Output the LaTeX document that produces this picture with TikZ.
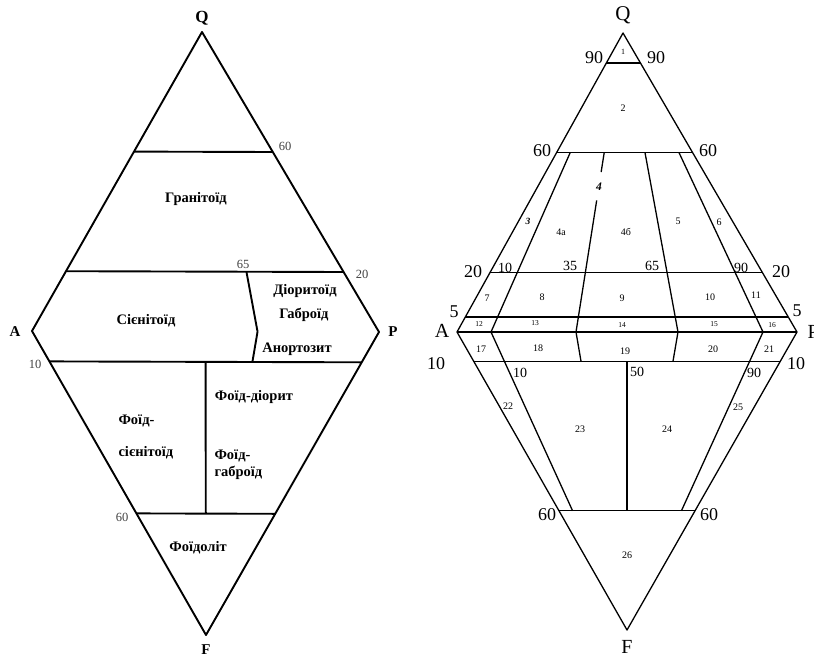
\documentclass[tikz,border=0pt]{standalone}
\usepackage{fontspec}
\setmainfont{Liberation Serif}
\usetikzlibrary{calc}

\begin{document}
\begin{tikzpicture}[x=1pt, y=-1pt, line join=round,
    rock/.style={font=\bfseries\fontsize{14.5}{16}\selectfont},
    vtx/.style={font=\bfseries\fontsize{15}{17}\selectfont},
    pct/.style={font=\fontsize{12.5}{14}\selectfont, text=black!75},
    big/.style={font=\fontsize{18}{20}\selectfont},
    mid/.style={font=\fontsize{14}{16}\selectfont},
    fld/.style={font=\fontsize{10}{11}\selectfont},
    tiny/.style={font=\fontsize{7.5}{9}\selectfont}]
  \useasboundingbox (0,0) rectangle (814,659);

  % ---- ліва діаграма ----
  \coordinate (Q1) at (202, 32);
  \coordinate (A1) at (32, 331);
  \coordinate (P1) at (379, 332);
  \coordinate (F1) at (206, 635);
  \coordinate (m65) at ($(A1)!0.65!(P1)$);
  \coordinate (m50) at ($(A1)!0.5!(P1)$);

  \begin{scope}[line width=1.9pt]
    \draw (Q1) -- (P1) -- (F1) -- (A1) -- cycle;
    \draw ($(Q1)!0.4!(A1)$) -- ($(Q1)!0.4!(P1)$);
    \draw ($(Q1)!0.8!(A1)$) -- ($(Q1)!0.8!(P1)$);
    \draw ($(A1)!0.1!(F1)$) -- ($(P1)!0.1!(F1)$);
    \draw ($(A1)!0.6!(F1)$) -- ($(P1)!0.6!(F1)$);
    \draw ($(Q1)!0.8!(m65)$) -- (m65) -- ($(m65)!0.1!(F1)$);
    \draw ($(m50)!0.1!(F1)$) -- ($(m50)!0.6!(F1)$);
  \end{scope}

  \node[vtx, font=\bfseries\fontsize{17}{19}\selectfont] at (202, 18) {Q};
  \node[vtx] at (15, 332) {A};
  \node[vtx] at (393, 332) {P};
  \node[vtx] at (206, 650) {F};

  \node[pct] at (285, 146) {60};
  \node[pct] at (243, 264) {65};
  \node[pct] at (362, 274) {20};
  \node[pct] at (35, 364) {10};
  \node[pct] at (122, 517) {60};

  \node[rock] at (196, 199) {Гранітоїд};
  \node[rock] at (146, 321) {Сієнітоїд};
  \node[rock] at (305, 291) {Діоритоїд};
  \node[rock] at (304, 315) {Габроїд};
  \node[rock] at (297, 349) {Анортозит};
  \node[rock] at (254, 397) {Фоїд-діорит};
  \node[rock, anchor=west] at (115, 421) {Фоїд-};
  \node[rock, anchor=west] at (115, 453) {сієнітоїд};
  \node[rock, anchor=west] at (211, 456) {Фоїд-};
  \node[rock, anchor=west] at (211, 473) {габроїд};
  \node[rock] at (198, 548) {Фоїдоліт};

  % ---- права діаграма ----
  \coordinate (Q2) at (623, 33);
  \coordinate (A2) at (457, 332);
  \coordinate (P2) at (797, 332);
  \coordinate (F2) at (627, 630);
  \foreach \r in {10, 35, 65, 90}
    \coordinate (a\r) at ($(A2)!0.\r!(P2)$);
  \coordinate (a50) at ($(A2)!0.5!(P2)$);

  \begin{scope}[line width=1.3pt]
    \draw (Q2) -- (P2) -- (F2) -- (A2) -- cycle;
    \draw (A2) -- (P2);
    \foreach \t in {0.1, 0.4, 0.8, 0.95}
      \draw ($(Q2)!\t!(A2)$) -- ($(Q2)!\t!(P2)$);
    \foreach \t in {0.1, 0.6}
      \draw ($(A2)!\t!(F2)$) -- ($(P2)!\t!(F2)$);
    \foreach \r in {10, 65, 90}
      \draw ($(Q2)!0.4!(a\r)$) -- (a\r);
    % лінія 35 з розривом для «4»
    \draw ($(Q2)!0.4!(a35)$) -- ($(Q2)!0.465!(a35)$);
    \draw ($(Q2)!0.56!(a35)$) -- (a35);
    \draw (a10) -- ($(a10)!0.6!(F2)$);
    \draw (a90) -- ($(a90)!0.6!(F2)$);
    \draw (a35) -- ($(a35)!0.1!(F2)$);
    \draw (a65) -- ($(a65)!0.1!(F2)$);
    \draw ($(a50)!0.1!(F2)$) -- ($(a50)!0.6!(F2)$);
  \end{scope}

  \node[font=\fontsize{21}{23}\selectfont] at (623, 15) {Q};
  \node[font=\fontsize{20}{22}\selectfont] at (442, 331) {A};
  \node[font=\fontsize{20}{22}\selectfont, anchor=west] at (804, 332) {P};
  \node[font=\fontsize{20}{22}\selectfont] at (627, 647) {F};

  \node[big] at (594, 58) {90};
  \node[big] at (656, 58) {90};
  \node[big] at (542, 151) {60};
  \node[big] at (708, 151) {60};
  \node[big] at (473, 272) {20};
  \node[big] at (781, 272) {20};
  \node[big] at (454, 312) {5};
  \node[big] at (797, 311) {5};
  \node[big] at (436, 364) {10};
  \node[big] at (796, 364) {10};
  \node[big] at (547, 515) {60};
  \node[big] at (709, 515) {60};

  \node[mid] at (505, 268) {10};
  \node[mid] at (570, 266) {35};
  \node[mid] at (652, 266) {65};
  \node[mid] at (741, 268) {90};
  \node[mid] at (520, 373) {10};
  \node[mid] at (637, 372) {50};
  \node[mid] at (754, 373) {90};

  \node[fld, font=\fontsize{8}{9}\selectfont] at (623, 52) {1};
  \node[fld] at (623, 108) {2};
  \node[fld, font=\bfseries\itshape\fontsize{9.5}{10}\selectfont] at (528, 221) {3};
  \node[fld, font=\bfseries\itshape\fontsize{11.5}{12}\selectfont] at ($(Q2)!0.513!(a35)$) {4};
  \node[fld] at (561, 232) {4а};
  \node[fld] at (626, 232) {4б};
  \node[fld] at (678, 221) {5};
  \node[fld] at (719, 222) {6};
  \node[fld] at (487, 298) {7};
  \node[fld] at (542, 297) {8};
  \node[fld] at (622, 298) {9};
  \node[fld] at (710, 297) {10};
  \node[fld] at (756, 295) {11};
  \node[tiny] at (479, 324) {12};
  \node[tiny] at (535, 323) {13};
  \node[tiny] at (622, 325) {14};
  \node[tiny] at (714, 324) {15};
  \node[tiny] at (772, 325) {16};
  \node[fld] at (481, 349) {17};
  \node[fld] at (538, 348) {18};
  \node[fld] at (625, 351) {19};
  \node[fld] at (713, 349) {20};
  \node[fld] at (769, 349) {21};
  \node[fld] at (508, 406) {22};
  \node[fld] at (580, 429) {23};
  \node[fld] at (667, 429) {24};
  \node[fld] at (738, 407) {25};
  \node[fld] at (627, 555) {26};
\end{tikzpicture}
\end{document}
